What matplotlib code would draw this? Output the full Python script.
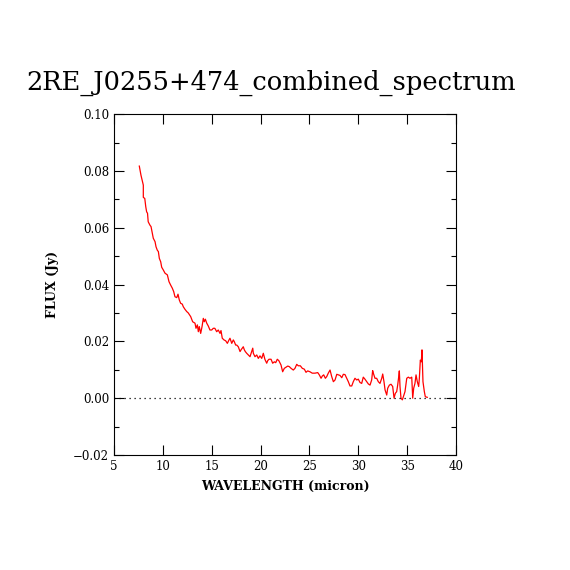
import numpy as np
import matplotlib
matplotlib.use("Agg")
import matplotlib.pyplot as plt
from matplotlib.ticker import MultipleLocator

# spectrum
wavelength = [
    7.59, 7.76, 7.90, 8.00, 8.00, 8.15, 8.25, 8.34, 8.43, 8.50, 8.68, 8.79,
    8.89, 9.02, 9.20, 9.30, 9.43, 9.54, 9.64, 9.78, 9.88, 10.05, 10.22, 10.46,
    10.63, 10.80, 10.97, 11.11, 11.24, 11.42, 11.55, 11.68, 11.82, 11.99, 12.09,
    12.26, 12.44, 12.60, 12.85, 13.05, 13.29, 13.39, 13.53, 13.63, 13.73, 13.87,
    14.01, 14.14, 14.24, 14.35, 14.49, 14.65, 14.82, 15.00, 15.16, 15.32, 15.51,
    15.67, 15.85, 15.95, 16.08, 16.26, 16.43, 16.60, 16.77, 16.87, 17.05, 17.21,
    17.31, 17.45, 17.56, 17.72, 17.90, 18.00, 18.13, 18.23, 18.34, 18.44, 18.58,
    18.75, 18.92, 19.09, 19.20, 19.26, 19.43, 19.61, 19.77, 19.94, 20.12, 20.28,
    20.45, 20.63, 20.73, 20.86, 21.07, 21.24, 21.41, 21.55, 21.71, 21.87, 22.09,
    22.26, 22.43, 22.60, 22.78, 22.94, 23.12, 23.35, 23.52, 23.70, 23.86, 24.07,
    24.27, 24.48, 24.65, 24.82, 25.05, 25.29, 25.57, 25.85, 26.01, 26.19, 26.32,
    26.46, 26.63, 26.77, 26.93, 27.11, 27.28, 27.45, 27.62, 27.80, 27.96, 28.13,
    28.31, 28.47, 28.64, 28.82, 28.98, 29.15, 29.33, 29.49, 29.66, 29.84, 30.00,
    30.18, 30.35, 30.51, 30.68, 30.86, 31.03, 31.20, 31.37, 31.47, 31.54, 31.71,
    31.88, 32.05, 32.22, 32.40, 32.50, 32.63, 32.74, 32.91, 33.01, 33.18, 33.35,
    33.52, 33.66, 33.79, 33.93, 34.03, 34.14, 34.20, 34.27, 34.37, 34.51, 34.61,
    34.78, 34.96, 35.12, 35.29, 35.47, 35.57, 35.67, 35.80, 35.91, 36.04, 36.18,
    36.25, 36.35, 36.45, 36.52, 36.62, 36.76, 36.86, 37.06,
]
flux = [
    0.0817, 0.0785, 0.0765, 0.0750, 0.0707, 0.0703, 0.0674, 0.0656, 0.0651,
    0.0621, 0.0609, 0.0604, 0.0586, 0.0563, 0.0551, 0.0533, 0.0521, 0.0516,
    0.0492, 0.0480, 0.0461, 0.0451, 0.0440, 0.0434, 0.0410, 0.0398, 0.0387,
    0.0375, 0.0357, 0.0354, 0.0366, 0.0346, 0.0334, 0.0331, 0.0322, 0.0313,
    0.0305, 0.0300, 0.0287, 0.0269, 0.0264, 0.0246, 0.0258, 0.0234, 0.0252,
    0.0228, 0.0252, 0.0281, 0.0269, 0.0278, 0.0264, 0.0254, 0.0240, 0.0240,
    0.0246, 0.0246, 0.0234, 0.0240, 0.0228, 0.0238, 0.0211, 0.0205, 0.0202,
    0.0193, 0.0205, 0.0211, 0.0193, 0.0205, 0.0199, 0.0187, 0.0187, 0.0181,
    0.0164, 0.0170, 0.0176, 0.0181, 0.0170, 0.0164, 0.0158, 0.0152, 0.0146,
    0.0164, 0.0176, 0.0158, 0.0146, 0.0152, 0.0140, 0.0149, 0.0140, 0.0158,
    0.0136, 0.0123, 0.0132, 0.0137, 0.0137, 0.0123, 0.0128, 0.0125, 0.0137,
    0.0132, 0.0117, 0.0093, 0.0105, 0.0109, 0.0113, 0.0111, 0.0105, 0.0099,
    0.0105, 0.0119, 0.0114, 0.0114, 0.0105, 0.0102, 0.0091, 0.0096, 0.0093,
    0.0088, 0.0088, 0.0090, 0.0082, 0.0070, 0.0078, 0.0082, 0.0070, 0.0076,
    0.0088, 0.0099, 0.0076, 0.0058, 0.0064, 0.0084, 0.0082, 0.0080, 0.0072,
    0.0084, 0.0083, 0.0070, 0.0058, 0.0043, 0.0043, 0.0058, 0.0070, 0.0064,
    0.0067, 0.0055, 0.0052, 0.0074, 0.0067, 0.0058, 0.0050, 0.0046, 0.0064,
    0.0097, 0.0088, 0.0070, 0.0070, 0.0058, 0.0052, 0.0070, 0.0085, 0.0058,
    0.0029, 0.0011, 0.0035, 0.0046, 0.0049, 0.0041, 0.0000, 0.0017, 0.0023,
    0.0046, 0.0076, 0.0096, 0.0041, 0.0000, -0.0006, 0.0005, 0.0023, 0.0070,
    0.0074, 0.0070, 0.0074, 0.0000, 0.0035, 0.0052, 0.0082, 0.0058, 0.0041,
    0.0070, 0.0134, 0.0128, 0.0170, 0.0058, 0.0023, 0.0005, 0.0003,
]

title = "2RE_J0255+474_combined_spectrum"
plt.rcParams['font.family'] = ['DejaVu Serif']

fig = plt.figure(figsize=(5.7, 5.7), dpi=100)
ax = fig.add_axes([0.2, 0.2018, 0.6, 0.598])

ax.plot(wavelength, flux, color='red', lw=0.9)
ax.axhline(0, color='black', lw=0.9, ls=(0, (1, 3)))

ax.set_xlim(5, 40)
ax.set_ylim(-0.02, 0.10)
ax.xaxis.set_major_locator(MultipleLocator(5))
ax.yaxis.set_major_locator(MultipleLocator(0.02))
ax.yaxis.set_minor_locator(MultipleLocator(0.01))
ax.yaxis.set_major_formatter(plt.FuncFormatter(lambda v, p: f"{v:.2f}".replace("-", "\u2212")))
ax.tick_params(which='both', direction='in', top=True, right=True, labelsize=8.5, width=0.8)
ax.tick_params(which='major', length=7)
ax.tick_params(which='minor', length=3.5)
for s in ax.spines.values():
    s.set_linewidth(0.8)

ax.set_xlabel("WAVELENGTH (micron)", fontsize=9, fontweight='bold', labelpad=5)
ax.set_ylabel("FLUX (Jy)", fontsize=9, fontweight='bold', labelpad=10)
fig.text(0.476, 0.855, title, ha='center', va='center', fontsize=18.5)

fig.savefig("out.png", dpi=100)
